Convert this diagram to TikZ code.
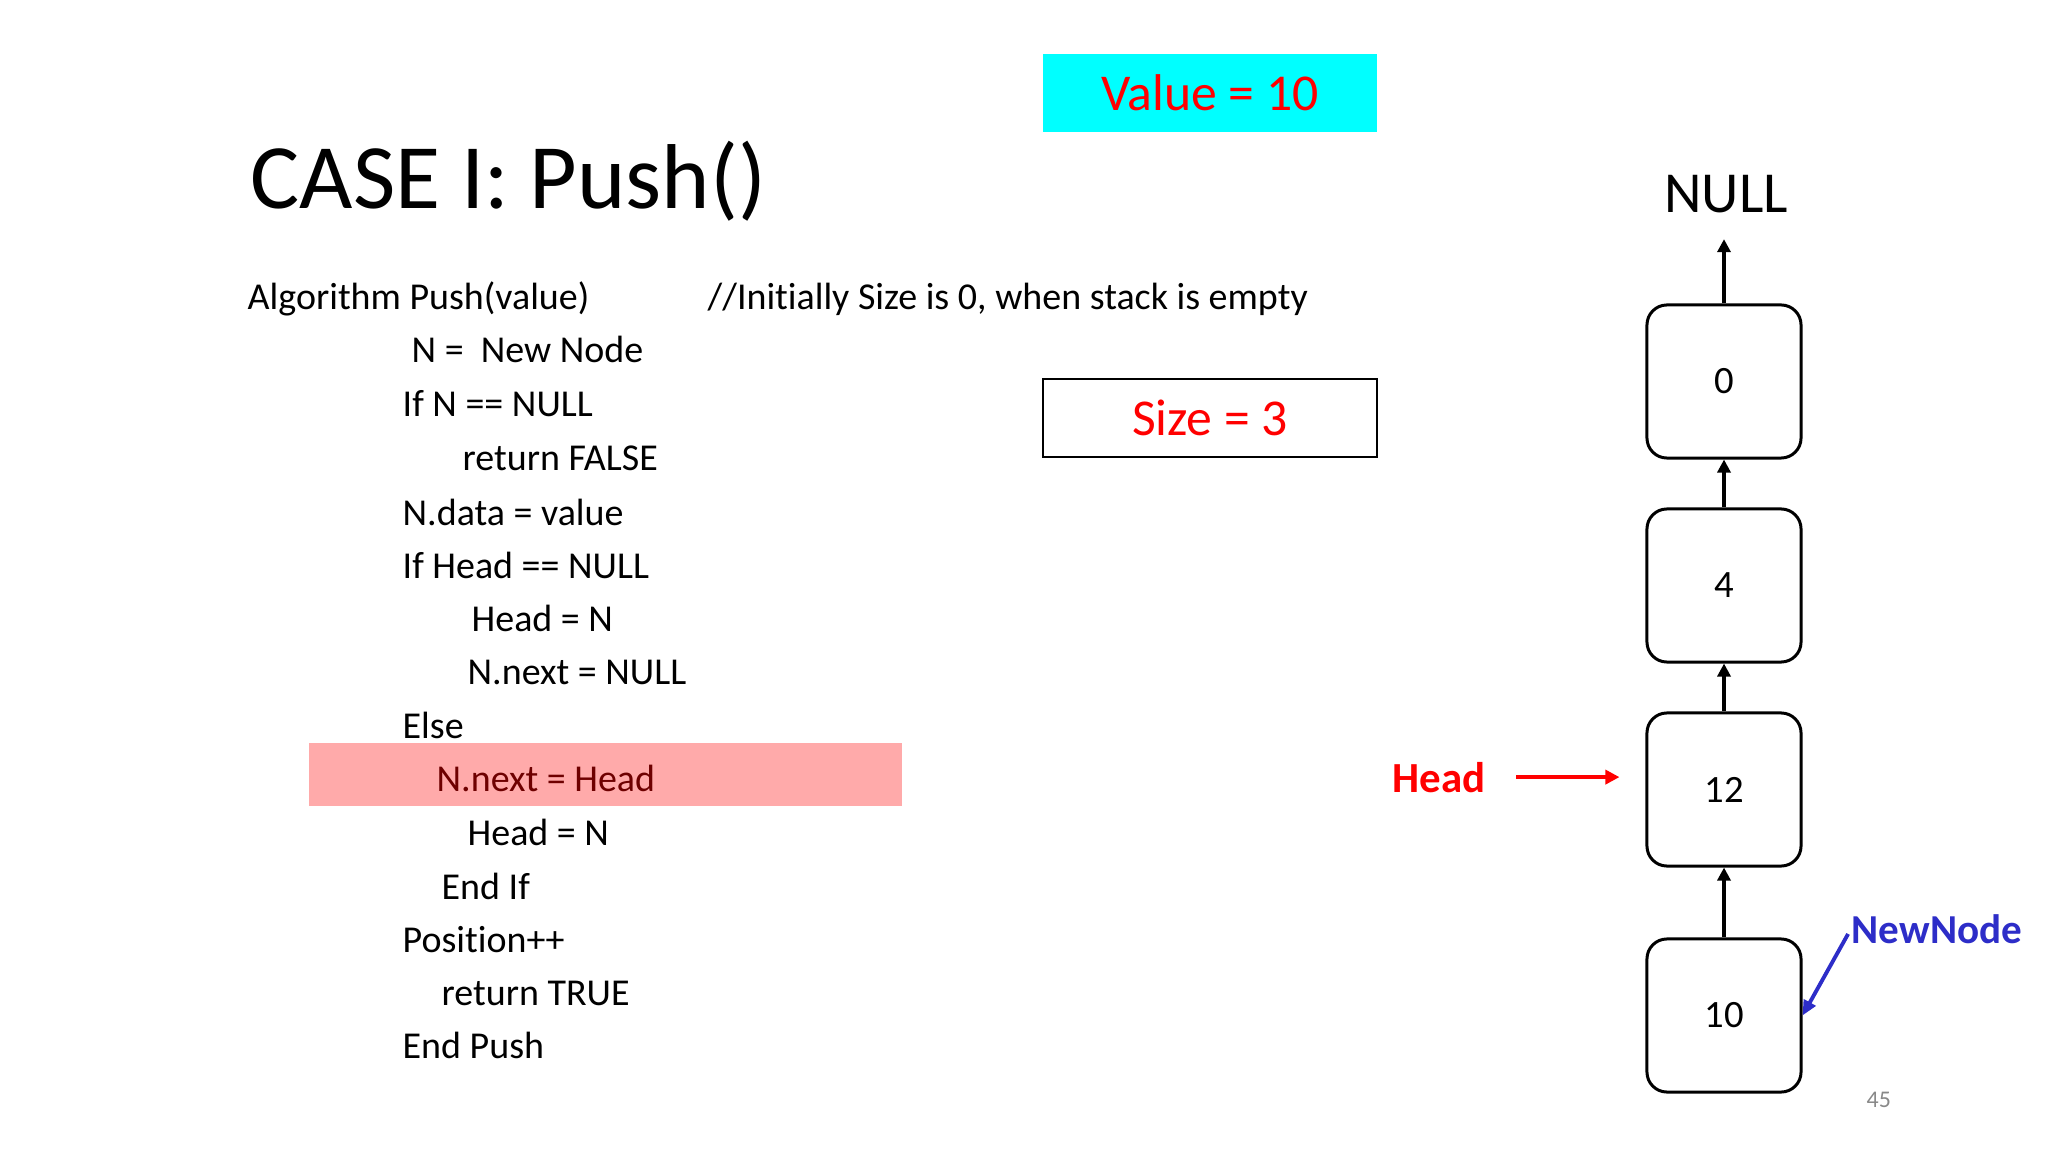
\documentclass[tikz,border=0pt]{standalone}
\usepackage{fontspec}
\setmainfont{Carlito}[Ligatures={NoCommon,NoContextual,NoRare}]
\usetikzlibrary{arrows.meta}

\definecolor{valcyan}{RGB}{0,255,255}
\definecolor{hlpink}{RGB}{255,170,170}
\definecolor{hltext}{RGB}{110,0,0}
\definecolor{nnblue}{RGB}{45,45,200}
\definecolor{pggray}{RGB}{137,137,137}

\tikzset{
  code/.style={anchor=base west, inner sep=0pt, font=\fontsize{10.8}{13}\selectfont},
  cell/.style={draw, line width=0.85pt, rounded corners=0.2cm, minimum width=1.54cm,
    minimum height=1.53cm, inner sep=0pt, font=\fontsize{11}{13}\selectfont},
  link/.style={-{Triangle[length=0.13cm,width=0.13cm]}, line width=1.1pt},
  infobox/.style={minimum width=3.34cm, minimum height=0.78cm, text=red,
    font=\fontsize{14.7}{17}\selectfont},
}

\begin{document}
\begin{tikzpicture}[x=0.01cm,y=-0.01cm]
    \useasboundingbox (0,0) rectangle (2048,1152);

    \node[anchor=base west, inner sep=0pt, font=\fontsize{26.2}{30}\selectfont] (title) at (250,209) {CASE I: Push()};

    \node[infobox, fill=valcyan] (value) at (1210,93) {Value = 10};
    \node[infobox, draw, line width=0.75pt] (size) at (1210,418) {Size = 3};

    % algorithm
    \node[fill=hlpink, minimum width=5.93cm, minimum height=0.63cm, inner sep=0pt] (hl) at (605.5,774.5) {};
    \node[code] (alg) at (247,310) {Algorithm Push(value)};
    \node[code] (cmt) at (707,310) {//Initially Size is 0, when stack is empty};
    \node[code] (newn) at (411,363) {N = \ New Node};
    \node[code] (ifn) at (402,417) {If N == NULL};
    \node[code] (retf) at (462,471) {return FALSE};
    \node[code] (data) at (402,525) {N.data = value};
    \node[code] (ifh) at (402,578) {If Head == NULL};
    \node[code] (hdn) at (471,631) {Head = N};
    \node[code] (nxn) at (467,685) {N.next = NULL};
    \node[code] (els) at (402,738) {Else};
    \node[code, text=hltext] (nxh) at (436,791) {N.next = Head};
    \node[code] (hdn2) at (467,845) {Head = N};
    \node[code] (endif) at (441,899) {End If};
    \node[code] (pos) at (402,952) {Position++};
    \node[code] (rett) at (441,1005) {return TRUE};
    \node[code] (endp) at (402,1058) {End Push};

    % linked stack
    \node[anchor=base, inner sep=0pt, font=\fontsize{16.5}{19}\selectfont] (null) at (1726,213) {NULL};
    \node[cell] (n0) at (1724,381.5) {0};
    \node[cell] (n4) at (1724,585.5) {4};
    \node[cell] (n12) at (1724,789.5) {12};
    \node[cell] (n10) at (1724,1015.5) {10};

    \draw[link, shorten >=0.25cm] (n0.north) -- (n0.north |- null.south);
    \draw[link] (n4.north) -- (n0.south);
    \draw[link] (n12.north) -- (n4.south);
    \draw[link] (n10.north) -- (n12.south);

    \node[anchor=base west, inner sep=0pt, text=red, font=\bfseries\fontsize{12.2}{15}\selectfont] (head) at (1392,792) {Head};
    \draw[-{Triangle[length=0.14cm,width=0.14cm]}, red, line width=1.1pt, shorten <=0.3cm, shorten >=0.26cm] (head.east) -- (head.east -| n12.west);

    \node[anchor=base west, inner sep=0pt, text=nnblue, font=\bfseries\fontsize{11.7}{14}\selectfont] (newnode) at (1851,943) {NewNode};
    \draw[-{Triangle[length=0.15cm,width=0.13cm]}, nnblue, line width=1.1pt, shorten <=0.06cm] (newnode.west) -- (n10.east);

    \node[anchor=base west, inner sep=0pt, text=pggray, font=\fontsize{6.8}{8}\selectfont] (page) at (1866,1107) {45};
\end{tikzpicture}
\end{document}
